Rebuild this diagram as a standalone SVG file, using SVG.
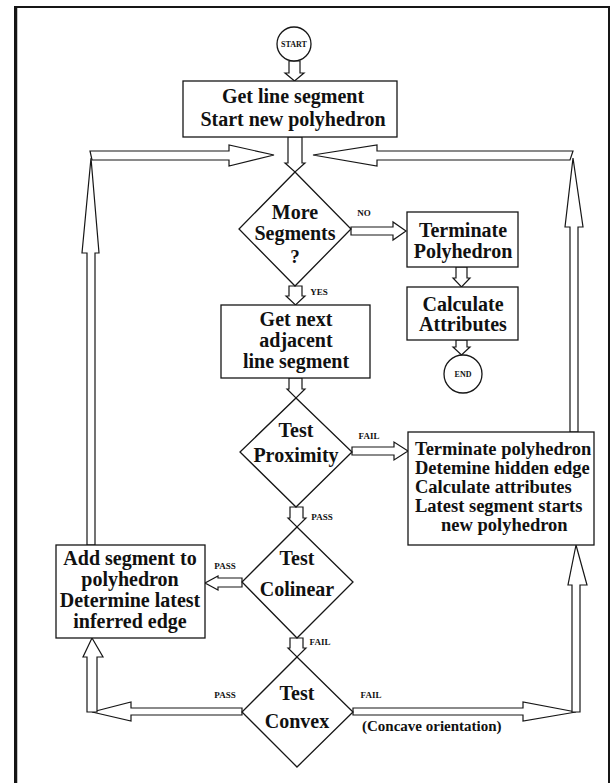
<svg xmlns="http://www.w3.org/2000/svg" width="613" height="783" viewBox="0 0 613 783">
<style>
.ln{fill:#fff;stroke:#161616;stroke-width:1.3;stroke-linejoin:miter}
.ar{fill:#fff;stroke:#161616;stroke-width:1.2;stroke-linejoin:miter}
.t{font-family:"Liberation Serif","Times New Roman",serif;font-weight:bold;fill:#111;text-anchor:middle}
.m{font-size:20px}
.r{font-size:18.5px;text-anchor:start}
.s{font-size:9px}
.c{font-size:8px}
</style>
<rect width="613" height="783" fill="#fff"/>
<g id="frame" fill="none" stroke="#161616">
<polyline points="15,783 15,7 609,7 609,783" stroke-width="2"/>
<line x1="16" y1="7" x2="16" y2="783" stroke-width="2.5"/>
</g>
<g id="connectors">
<polygon class="ar" points="289,61 300,61 300,73 304,73 294.5,81 285,73 289,73"/>
<polygon class="ar" points="288,137 302,137 302,163 305,163 295,172 285,163 288,163"/>
<polygon class="ar" points="90,151 229,151 229,145 274,155 229,166 229,160 92,160"/>
<polygon class="ar" points="573,151 377,151 377,145 313,155 377,166 377,160 570,160"/>
<polygon class="ar" points="91,158 99,253 95,253 95,545 87,545 87,253 82,253"/>
<polygon class="ar" points="573,158 583,227 578,227 578,432 570,432 570,227 565,227"/>
<polygon class="ar" points="351,227 393,227 393,222 406,231 393,240 393,235 351,235"/>
<polygon class="ar" points="456,267 467,267 467,278 470,278 461.5,287 453,278 456,278"/>
<polygon class="ar" points="456,340 467,340 467,347 470,347 461.5,355 453,347 456,347"/>
<polygon class="ar" points="289,286 302,286 302,296 305,296 295.5,305 286,296 289,296"/>
<polygon class="ar" points="289,378 302,378 302,389 305,389 296,398 287,389 289,389"/>
<polygon class="ar" points="352,447 394,447 394,442 408,451 394,460 394,455 352,455"/>
<polygon class="ar" points="290,507 303,507 303,518 306,518 297,527 288,518 290,518"/>
<polygon class="ar" points="242,578 218,578 218,576 205,583 218,590 218,587 242,587"/>
<polygon class="ar" points="290,638 303,638 303,648 306,648 297,657 288,648 290,648"/>
<polygon class="ar" points="242,708 131,708 131,702 92,712 131,721 131,715 242,715"/>
<polygon class="ar" points="87,712 87,657 83,657 92,638 103,657 97,657 97,712"/>
<polygon class="ar" points="353,708 523,708 523,702 576,712 523,721 523,715 353,715"/>
<polygon class="ar" points="572,712 572,585 568,585 576,545 587,585 580,585 580,712"/>
<text class="t s" x="364" y="216">NO</text>
<text class="t s" x="319" y="295">YES</text>
<text class="t s" x="369" y="439">FAIL</text>
<text class="t s" x="322" y="520">PASS</text>
<text class="t s" x="225" y="569">PASS</text>
<text class="t s" x="320" y="645">FAIL</text>
<text class="t s" x="225" y="698">PASS</text>
<text class="t s" x="371" y="698">FAIL</text>
<text class="t" x="362" y="731" style="font-size:15px;text-anchor:start">(Concave orientation)</text>
</g>
<g id="start">
<circle class="ln" cx="294" cy="44" r="17"/>
<text class="t c" x="294" y="47">START</text>
</g>
<g id="get-line-segment">
<rect class="ln" x="183" y="81" width="214" height="56"/>
<text class="t m" x="293" y="103">Get line segment</text>
<text class="t m" x="293" y="126">Start new polyhedron</text>
</g>
<g id="more-segments">
<polygon class="ln" points="295,172 351,229 295,286 239,229"/>
<text class="t m" x="295" y="219">More</text>
<text class="t m" x="295" y="240">Segments</text>
<text class="t" x="295" y="263" style="font-size:19px">?</text>
</g>
<g id="terminate-polyhedron">
<rect class="ln" x="407" y="212" width="111" height="55"/>
<text class="t m" x="463" y="237">Terminate</text>
<text class="t m" x="463" y="258">Polyhedron</text>
</g>
<g id="calculate-attributes">
<rect class="ln" x="407" y="287" width="111" height="53"/>
<text class="t m" x="463" y="311">Calculate</text>
<text class="t m" x="463" y="331">Attributes</text>
</g>
<g id="end">
<circle class="ln" cx="463" cy="374" r="19"/>
<text class="t c" x="463" y="377">END</text>
</g>
<g id="get-next-segment">
<rect class="ln" x="221" y="305" width="149" height="73"/>
<text class="t m" x="296" y="326">Get next</text>
<text class="t m" x="296" y="347">adjacent</text>
<text class="t m" x="296" y="368">line segment</text>
</g>
<g id="test-proximity">
<polygon class="ln" points="296,398 352,452 296,507 240,452"/>
<text class="t m" x="296" y="437">Test</text>
<text class="t m" x="296" y="462">Proximity</text>
</g>
<g id="terminate-box">
<rect class="ln" x="408" y="432" width="186" height="113"/>
<text class="t r" x="415" y="455">Terminate polyhedron</text>
<text class="t r" x="415" y="474">Detemine hidden edge</text>
<text class="t r" x="415" y="493">Calculate attributes</text>
<text class="t r" x="415" y="512">Latest segment starts</text>
<text class="t r" x="441" y="531">new polyhedron</text>
</g>
<g id="test-colinear">
<polygon class="ln" points="297,527 353,582 297,638 242,582"/>
<text class="t m" x="297" y="565">Test</text>
<text class="t m" x="297" y="596">Colinear</text>
</g>
<g id="add-segment">
<rect class="ln" x="56" y="545" width="149" height="93"/>
<text class="t m" x="130" y="565">Add segment to</text>
<text class="t m" x="130" y="586">polyhedron</text>
<text class="t m" x="130" y="607">Determine latest</text>
<text class="t m" x="130" y="628">inferred edge</text>
</g>
<g id="test-convex">
<polygon class="ln" points="297,657 353,712 297,767 242,712"/>
<text class="t m" x="297" y="700">Test</text>
<text class="t m" x="297" y="728">Convex</text>
</g>
</svg>
